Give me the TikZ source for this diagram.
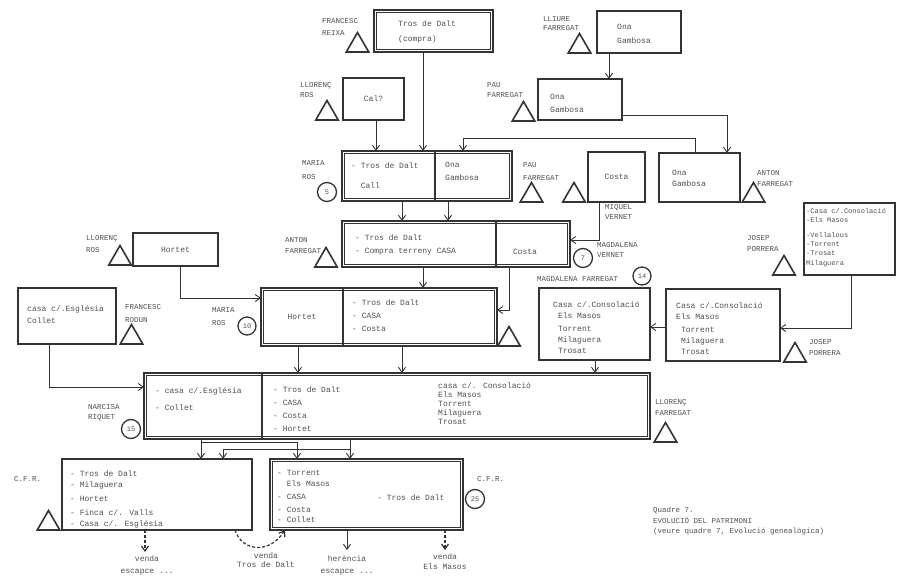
\documentclass[tikz,border=0pt]{standalone}
\usepackage{fontspec}
\newfontfamily\tw{Liberation Mono}
\usetikzlibrary{arrows.meta,shapes.geometric}
\definecolor{linec}{HTML}{333333}
\definecolor{txtc}{HTML}{505050}
\begin{document}
\begin{tikzpicture}[x=1pt,y=-1pt,
 bx/.style={draw=linec, line width=1.1pt, inner sep=0pt, outer sep=0pt, text=txtc, font=\tw\fontsize{8}{10}\selectfont},
 dbx/.style={draw=linec, line width=1.8pt, inner sep=0pt, outer sep=0pt},
 inl/.style={draw=linec, line width=0.5pt},
 txt/.style={inner sep=0pt, anchor=north west, align=left, text=txtc, font=\tw\fontsize{8}{#1}\selectfont},
 txt/.default=11,
 ctxt/.style={inner sep=0pt, anchor=north, align=center, text=txtc, font=\tw\fontsize{8}{#1}\selectfont},
 ctxt/.default=11,
 lbl/.style={inner sep=0pt, anchor=north west, align=left, text=txtc, font=\tw\fontsize{7.5}{#1}\selectfont},
 lbl/.default=11,
 tri/.style={regular polygon, regular polygon sides=3, draw=linec, line width=1.6pt, inner sep=0pt, minimum size=26pt},
 circ/.style={circle, draw=linec, line width=1.3pt, inner sep=0pt, minimum size=19pt, text=txtc, font=\tw\fontsize{7}{8}\selectfont},
 conn/.style={draw=linec, line width=0.9pt},
 arr/.style={conn, -{Straight Barb[length=5pt,width=7pt]}},
 darr/.style={arr, dash pattern=on 3pt off 2pt, line width=1.2pt},
 divl/.style={draw=linec, line width=1.1pt}
]
\fill[white] (0,0) rectangle (903,579);
\useasboundingbox (0,0) rectangle (903,579);

% boxes
\node[dbx, minimum width=119pt, minimum height=42pt] (b1) at (433.5,31) {};
\node[bx, minimum width=61pt, minimum height=42pt] (b2) at (373.5,99) {Cal?};
\node[bx, minimum width=84pt, minimum height=42pt] (b3) at (639,32) {};
\node[bx, minimum width=84pt, minimum height=41pt] (b4) at (580,99.5) {};
\node[dbx, minimum width=170pt, minimum height=50pt] (b5) at (427,176) {};
\node[bx, minimum width=57pt, minimum height=50pt] (b6) at (616.5,177) {Costa};
\node[bx, minimum width=81pt, minimum height=49pt] (b7) at (699.5,177.5) {};
\node[dbx, minimum width=228pt, minimum height=46pt] (b8) at (456,244) {};
\node[bx, minimum width=85pt, minimum height=33pt] (b9) at (175.5,249.5) {Hortet};
\node[bx, minimum width=98pt, minimum height=56pt] (b10) at (67,316) {};
\node[dbx, minimum width=236pt, minimum height=58pt] (b11) at (379,317) {};
\node[bx, minimum width=111pt, minimum height=72pt] (b12) at (594.5,324) {};
\node[bx, minimum width=114pt, minimum height=72pt] (b13) at (723,325) {};
\node[bx, minimum width=91pt, minimum height=72pt] (b14) at (849.5,239) {};
\node[dbx, minimum width=506pt, minimum height=66pt] (b15) at (397,406) {};
\node[bx, minimum width=190pt, minimum height=71pt] (b16) at (157,494.5) {};
\node[dbx, minimum width=193pt, minimum height=71pt] (b17) at (366.5,494.5) {};

% inner lines of the double boxes
\foreach \b in {b1,b5,b8,b11,b15,b17}
  \draw[inl] ([xshift=2.6pt,yshift=-2.6pt]\b.north west) rectangle ([xshift=-2.6pt,yshift=2.6pt]\b.south east);

% dividers
\draw[divl] (b5.north -| 435,0) -- (b5.south -| 435,0);
\draw[divl] (b8.north -| 496,0) -- (b8.south -| 496,0);
\draw[divl] (b11.north -| 343,0) -- (b11.south -| 343,0);
\draw[divl] (b15.north -| 262,0) -- (b15.south -| 262,0);

% box texts
\node[txt=16] (t1) at (398,20) {Tros de Dalt\\(compra)};
\node[txt=14] (t3) at (617,24) {Ona\\Gambosa};
\node[txt=13] (t4) at (550,94) {Ona\\Gambosa};
\node[txt=20] (t5a) at (351,162) {- Tros de Dalt\\~~Call};
\node[txt=13] (t5b) at (445,162) {Ona\\Gambosa};
\node[txt=10.5] (t7) at (672,170) {Ona\\Gambosa};
\node[txt=13] (t8a) at (355,234) {- Tros de Dalt\\- Compra terreny CASA};
\node[txt, anchor=center] (t8b) at (525,252) {Costa};
\node[txt=12.5] (t10) at (27,305) {casa c/.Església\\Collet};
\node[txt, anchor=center] (t11a) at (302,317) {Hortet};
\node[txt=13.3] (t11b) at (352,299) {- Tros de Dalt\\- CASA\\- Costa};
\node[txt=11] (t12) at (553,301) {Casa c/.Consolació\\~Els Masos\\[2pt]~Torrent\\~Milaguera\\~Trosat};
\node[txt=11] (t13) at (676,302) {Casa c/.Consolació\\Els Masos\\[2pt]~Torrent\\~Milaguera\\~Trosat};
\node[txt, font=\tw\fontsize{7}{8.8}\selectfont] (t14) at (806,208) {-Casa c/.Consolació\\-Els Masos\\[7pt]-Vellalous\\-Torrent\\-Trosat\\[1pt]Milaguera};
\node[txt=17] (t15a) at (155,387) {- casa c/.Església\\- Collet};
\node[txt=13] (t15b) at (273,386) {- Tros de Dalt\\- CASA\\- Costa\\- Hortet};
\node[txt=9] (t15c) at (438,382) {casa c/. Consolació\\Els Masos\\Torrent\\Milaguera\\Trosat};
\node[txt=11] (t16) at (70,470) {- Tros de Dalt\\- Milaguera\\[3pt]- Hortet\\[3pt]- Finca c/. Valls\\- Casa c/. Església};
\node[txt=10.5] (t17a) at (277,470) {- Torrent\\~~Els Masos\\[2.5pt]- CASA\\[2.5pt]- Costa\\- Collet};
\node[txt] (t17b) at (377,494) {- Tros de Dalt};

% labels
\node[lbl=12] (l1) at (322,18) {FRANCESC\\REIXA};
\node[lbl=9] (l2) at (543,16) {LLIURE\\FARREGAT};
\node[lbl=10] (l3) at (300,82) {LLORENÇ\\ROS};
\node[lbl=10] (l4) at (487,82) {PAU\\FARREGAT};
\node[lbl=14] (l5) at (302,160) {MARIA\\ROS};
\node[lbl=13] (l6) at (523,162) {PAU\\FARREGAT};
\node[lbl=10] (l7) at (605,204) {MIQUEL\\VERNET};
\node[lbl=11] (l8) at (757,170) {ANTON\\FARREGAT};
\node[lbl=11] (l9) at (285,237) {ANTON\\FARREGAT};
\node[lbl=10] (l10) at (597,242) {MAGDALENA\\VERNET};
\node[lbl] (l11) at (537,276) {MAGDALENA FARREGAT};
\node[lbl=11] (l12) at (747,235) {JOSEP\\PORRERA};
\node[lbl=11] (l13) at (809,339) {JOSEP\\PORRERA};
\node[lbl=12] (l14) at (86,235) {LLORENÇ\\ROS};
\node[lbl=13] (l15) at (125,304) {FRANCESC\\RODUN};
\node[lbl=13] (l16) at (212,307) {MARIA\\ROS};
\node[lbl=10.5] (l17) at (88,404) {NARCISA\\RIQUET};
\node[lbl=11] (l18) at (655,399) {LLORENÇ\\FARREGAT};
\node[lbl] (l19) at (14,476) {C.F.R.};
\node[lbl] (l20) at (477,476) {C.F.R.};

% triangles
\node[tri] (tr1) at (357.5,45.5) {};
\node[tri] (tr2) at (579.5,46.5) {};
\node[tri] (tr3) at (327,113.5) {};
\node[tri] (tr4) at (523.5,114.5) {};
\node[tri] (tr5) at (531.5,195.5) {};
\node[tri] (tr6) at (574,195.5) {};
\node[tri] (tr7) at (753.5,195.5) {};
\node[tri] (tr8) at (326,260.5) {};
\node[tri] (tr9) at (120,258.5) {};
\node[tri] (tr10) at (784,268.5) {};
\node[tri] (tr11) at (131.5,337.5) {};
\node[tri] (tr12) at (509,339.5) {};
\node[tri] (tr13) at (795,355.5) {};
\node[tri] (tr14) at (665.5,435.5) {};
\node[tri] (tr15) at (48.5,523.5) {};

% circles
\node[circ] (k5) at (327,192) {5};
\node[circ] (k7) at (583,258) {7};
\node[circ, minimum size=18pt] (k14) at (642,276) {14};
\node[circ, minimum size=18pt] (k10) at (247,326) {10};
\node[circ] (k15) at (131,429) {15};
\node[circ] (k25) at (475,499) {25};

% connectors
\draw[arr] (b1.south -| 423,0) -- (b5.north -| 423,0);
\draw[arr] (b2.south -| 376,0) -- (b5.north -| 376,0);
\draw[arr] (b3.south -| 609,0) -- (b4.north -| 609,0);
\draw[arr] (b4.east |- 0,115) -| (b7.north -| 727,0);
\draw[arr] (b7.north -| 695,0) |- (463,138) -- (b5.north -| 463,0);
\draw[arr] (b5.south -| 402,0) -- (b8.north -| 402,0);
\draw[arr] (b5.south -| 448,0) -- (b8.north -| 448,0);
\draw[arr] (b6.south -| 599,0) |- (b8.east |- 0,240);
\draw[arr] (b8.south -| 423,0) -- (b11.north -| 423,0);
\draw[arr] (b8.south -| 509,0) |- (b11.east |- 0,310);
\draw[arr] (b9.south -| 180,0) |- (b11.west |- 0,298);
\draw[arr] (b14.south -| 851,0) |- (b13.east |- 0,328);
\draw[arr] (b13.west |- 0,327) -- (b12.east |- 0,327);
\draw[arr] (b12.south -| 595,0) -- (b15.north -| 595,0);
\draw[arr] (b11.south -| 298,0) -- (b15.north -| 298,0);
\draw[arr] (b11.south -| 402,0) -- (b15.north -| 402,0);
\draw[arr] (b10.south -| 49,0) |- (b15.west |- 0,387);
\coordinate (j1) at (201,442);
\coordinate (j2) at (350,449);
\draw[arr] (b15.south -| 201,0) -- (b16.north -| 201,0);
\draw[arr] (j1) -| (b17.north -| 297,0);
\draw[arr] (b15.south -| 350,0) -- (b17.north -| 350,0);
\draw[arr] (j2) -| (b16.north -| 223,0);

% outputs
\coordinate (e1) at (145,552);
\coordinate (e3) at (347,550);
\coordinate (e4) at (445,550);
\draw[darr] (b16.south -| 145,0) -- (e1);
\draw[darr] (b16.south -| 235,0) .. controls (242,552) and (270,554) .. (b17.south -| 285,0);
\draw[arr] (b17.south -| 347,0) -- (e3);
\draw[darr] (b17.south -| 445,0) -- (e4);
\node[ctxt=12] (o1) at (147,555) {venda\\escapce ...};
\node[ctxt=9] (o2) at (266,552) {venda\\Tros de Dalt};
\node[ctxt=12] (o3) at (347,555) {herència\\escapce ...};
\node[ctxt=10] (o4) at (445,553) {venda\\Els Masos};

% caption
\node[txt, font=\tw\fontsize{7.5}{10.5}\selectfont] (cap) at (653,507) {Quadre 7.\\EVOLUCIÓ DEL PATRIMONI\\(veure quadre 7, Evolució genealògica)};
\end{tikzpicture}
\end{document}
